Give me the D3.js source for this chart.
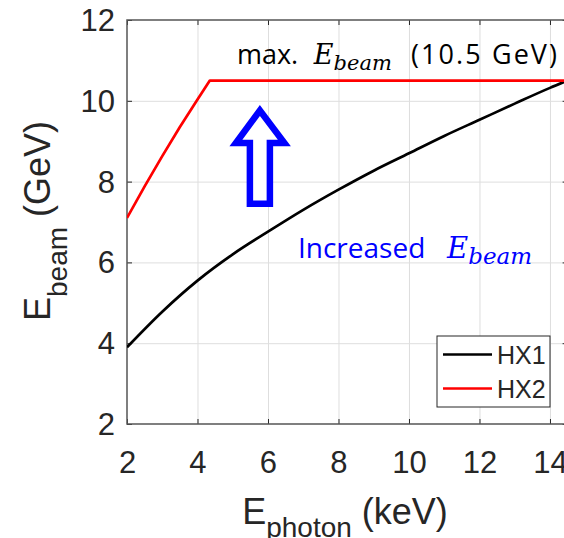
<!DOCTYPE html>
<html>
<head>
<meta charset="utf-8">
<script src="https://cdn.jsdelivr.net/npm/d3@7/dist/d3.min.js"></script>
<style>
  body { margin: 0; background: #fff; }
  svg { display: block; }
</style>
</head>
<body>
<div id="chart"></div>
<script>
// tick values
const xTicks = [2, 4, 6, 8, 10, 12, 14];
const yTicks = [2, 4, 6, 8, 10, 12];

// HX1: beam energy needed for each photon energy
const hx1Photon = [2, 3, 4, 5, 6, 7, 8, 9, 10, 11, 12, 13, 14, 14.5];
const hx1Beam = [3.9, 4.78, 5.55, 6.2, 6.76, 7.3, 7.8, 8.27, 8.7, 9.13, 9.53, 9.93, 10.32, 10.5];

// HX2: rises until it hits the machine limit, then flat
const hx2Photon = [2, 2.5, 3, 3.5, 4, 4.35, 14.5];
const hx2Beam = [7.1, 7.88, 8.63, 9.35, 10.03, 10.5, 10.5];

const seriesNames = ["HX1", "HX2"];
const seriesColors = ["#000000", "#ff0000"];
const maxBeam = 10.5;

const width = 564, height = 538;
const plot = { left: 127, top: 20, right: 567.6, bottom: 424 };

const svg = d3.select("#chart").append("svg")
    .attr("width", width)
    .attr("height", height);

const x = d3.scaleLinear().domain([2, 14.5]).range([plot.left, plot.right]);
const y = d3.scaleLinear().domain([2, 12]).range([plot.bottom, plot.top]);

const tickFont = "'Liberation Sans', Arial, sans-serif";
const axisColor = "#262626";

// grid
svg.append("g")
    .attr("transform", `translate(0,${plot.bottom})`)
    .call(d3.axisBottom(x).tickValues(xTicks.slice(1)).tickSize(-(plot.bottom - plot.top)).tickFormat(""))
    .call(g => g.select(".domain").remove())
    .call(g => g.selectAll("line").attr("stroke", "#dedede").attr("stroke-width", 1));

svg.append("g")
    .attr("transform", `translate(${plot.left},0)`)
    .call(d3.axisLeft(y).tickValues(yTicks.slice(1, -1)).tickSize(-(plot.right - plot.left)).tickFormat(""))
    .call(g => g.select(".domain").remove())
    .call(g => g.selectAll("line").attr("stroke", "#dedede").attr("stroke-width", 1));

// axes with inward ticks
svg.append("g")
    .attr("transform", `translate(0,${plot.bottom})`)
    .call(d3.axisBottom(x).tickValues(xTicks).tickSize(-5).tickPadding(27))
    .call(g => g.select(".domain").remove())
    .call(g => g.selectAll("line").attr("stroke", axisColor))
    .call(g => g.selectAll("text")
        .attr("fill", axisColor)
        .style("font-family", tickFont)
        .style("font-size", "31px"));

svg.append("g")
    .attr("transform", `translate(${plot.left},0)`)
    .call(d3.axisLeft(y).tickValues(yTicks).tickSize(-5).tickPadding(12))
    .call(g => g.select(".domain").remove())
    .call(g => g.selectAll("line").attr("stroke", axisColor))
    .call(g => g.selectAll("text")
        .attr("fill", axisColor)
        .attr("dy", "0.34em")
        .style("font-family", tickFont)
        .style("font-size", "31px"));

svg.append("g")
    .attr("transform", `translate(0,${plot.top})`)
    .call(d3.axisTop(x).tickValues(xTicks).tickSize(-5).tickFormat(""))
    .call(g => g.select(".domain").remove())
    .call(g => g.selectAll("line").attr("stroke", axisColor));

svg.append("g")
    .attr("transform", `translate(${plot.right},0)`)
    .call(d3.axisRight(y).tickValues(yTicks).tickSize(-5).tickFormat(""))
    .call(g => g.select(".domain").remove())
    .call(g => g.selectAll("line").attr("stroke", axisColor));

// frame
svg.append("rect")
    .attr("x", plot.left)
    .attr("y", plot.top)
    .attr("width", plot.right - plot.left)
    .attr("height", plot.bottom - plot.top)
    .attr("fill", "none")
    .attr("stroke", "#555")
    .attr("stroke-width", 1.5);

// curves
svg.append("clipPath").attr("id", "plot-clip")
    .append("rect")
    .attr("x", plot.left).attr("y", plot.top)
    .attr("width", plot.right - plot.left).attr("height", plot.bottom - plot.top);

const smoothLine = d3.line()
    .x(d => x(d[0]))
    .y(d => y(d[1]))
    .curve(d3.curveMonotoneX);

// HX2 has a hard corner where it reaches the limit
const straightLine = d3.line()
    .x(d => x(d[0]))
    .y(d => y(d[1]));

const series = [
    { data: d3.zip(hx1Photon, hx1Beam), gen: smoothLine },
    { data: d3.zip(hx2Photon, hx2Beam), gen: straightLine }
];

series.forEach((s, i) => {
    svg.append("path")
        .datum(s.data)
        .attr("clip-path", "url(#plot-clip)")
        .attr("fill", "none")
        .attr("stroke", seriesColors[i])
        .attr("stroke-width", 2.7)
        .attr("stroke-linejoin", "round")
        .attr("d", s.gen);
});

// axis labels
svg.append("text")
    .attr("x", 345)
    .attr("y", 524)
    .attr("text-anchor", "middle")
    .attr("fill", axisColor)
    .style("font-family", tickFont)
    .call(t => {
        t.append("tspan").style("font-size", "36px").text("E");
        t.append("tspan").attr("dy", 13).style("font-size", "28px").text("photon");
        t.append("tspan").attr("dy", -13).style("font-size", "36px").text(" (keV)");
    });

svg.append("text")
    .attr("transform", "translate(50,221) rotate(-90)")
    .attr("text-anchor", "middle")
    .attr("fill", axisColor)
    .style("font-family", tickFont)
    .call(t => {
        t.append("tspan").style("font-size", "36px").text("E");
        t.append("tspan").attr("dy", 17).style("font-size", "28px").text("beam");
        t.append("tspan").attr("dy", -17).style("font-size", "36px").text(" (GeV)");
    });

// annotations
const textFont = "'Open Sans', 'Noto Sans', sans-serif";
const mathFont = "'DejaVu Serif', serif";
const labelBase = y(maxBeam) - 17;

svg.append("text")
    .attr("x", x(5.12))
    .attr("y", labelBase)
    .attr("fill", "#000")
    .style("font-family", textFont)
    .style("font-size", "27px")
    .text("max.");

svg.append("text")
    .attr("x", x(7.3))
    .attr("y", labelBase)
    .attr("fill", "#000")
    .style("font-family", mathFont)
    .style("font-style", "italic")
    .call(t => {
        t.append("tspan").style("font-size", "27px").text("E");
        t.append("tspan").attr("dy", 6).style("font-size", "21px").text("beam");
    });

svg.append("text")
    .attr("x", x(14.2))
    .attr("y", labelBase)
    .attr("text-anchor", "end")
    .attr("fill", "#000")
    .style("font-family", textFont)
    .style("font-size", "27px")
    .attr("textLength", 146)
    .attr("lengthAdjust", "spacing")
    .text(`(${maxBeam} GeV)`);

svg.append("text")
    .attr("x", x(6.85))
    .attr("y", y(6.11))
    .attr("fill", "#0000ff")
    .style("font-family", textFont)
    .style("font-size", "28px")
    .text("Increased");

svg.append("text")
    .attr("x", x(11.08))
    .attr("y", y(6.11))
    .attr("fill", "#0000ff")
    .style("font-family", mathFont)
    .style("font-style", "italic")
    .call(t => {
        t.append("tspan").style("font-size", "29px").text("E");
        t.append("tspan").attr("dy", 6).style("font-size", "23px").text("beam");
    });

// hollow up arrow
const ax = x(5.77), tipY = y(9.76), baseY = y(7.45);
const arrow = [
    [ax, tipY],
    [ax + 24.5, tipY + 32.5],
    [ax + 10, tipY + 32.5],
    [ax + 10, baseY],
    [ax - 10, baseY],
    [ax - 10, tipY + 32.5],
    [ax - 24, tipY + 32.5]
];
svg.append("polygon")
    .attr("points", arrow.map(p => p.join(",")).join(" "))
    .attr("fill", "#fff")
    .attr("stroke", "#0000ff")
    .attr("stroke-width", 6.5)
    .attr("stroke-linejoin", "miter");

// legend
const legend = svg.append("g").attr("transform", "translate(437,336)");
legend.append("rect")
    .attr("width", 113)
    .attr("height", 71)
    .attr("fill", "#fff")
    .attr("stroke", axisColor)
    .attr("stroke-width", 1);

seriesNames.forEach((name, i) => {
    const ly = 18.5 + i * 34;
    legend.append("line")
        .attr("x1", 6).attr("x2", 55)
        .attr("y1", ly).attr("y2", ly)
        .attr("stroke", seriesColors[i])
        .attr("stroke-width", 2.7);
    legend.append("text")
        .attr("x", 60)
        .attr("y", ly + 9)
        .attr("fill", axisColor)
        .style("font-family", tickFont)
        .style("font-size", "25px")
        .text(name);
});
</script>
</body>
</html>
